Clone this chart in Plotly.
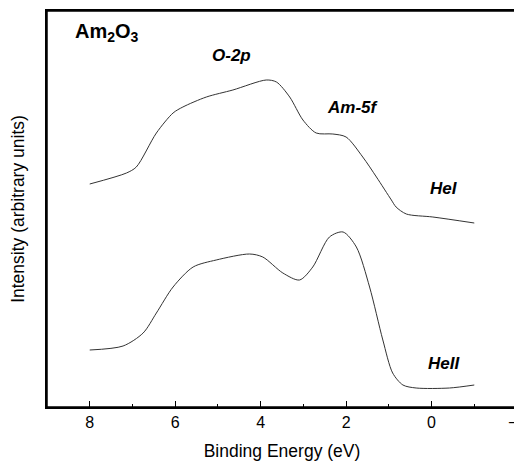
import plotly.graph_objects as go

# Binding energy (eV) and intensity (arbitrary units)
hei_energy = [8.0, 7.14, 6.91, 6.44, 6.05, 5.82, 5.27, 4.65, 3.87, 3.63, 3.32, 3.01,
              2.70, 2.31, 2.0, 1.61, 1.29, 0.94, 0.83, 0.59, -0.03, -1.0]
hei_intensity = [223, 234, 240, 274, 294, 300, 310, 317, 327, 325, 310, 287,
                 274, 273, 270, 250, 230, 207, 200, 193, 190, 184]

heii_energy = [8.0, 7.22, 6.75, 6.44, 6.05, 5.58, 5.04, 4.26, 3.95, 3.48, 3.09, 2.78,
               2.39, 2.07, 1.76, 1.45, 1.14, 0.91, 0.67, 0.36, -0.42, -1.0]
heii_intensity = [57, 61, 74, 94, 120, 140, 147, 153, 150, 134, 127, 140,
                  170, 175, 160, 120, 67, 34, 22, 19, 19, 22]

major_ticks = [8, 6, 4, 2, 0, -2]

FONT = "Liberation Sans, Arial, sans-serif"
LINE = "#333333"

fig = go.Figure()
fig.add_trace(go.Scatter(x=hei_energy, y=hei_intensity, mode="lines",
                         line=dict(color=LINE, width=1, shape="spline", smoothing=0.8),
                         showlegend=False))
fig.add_trace(go.Scatter(x=heii_energy, y=heii_intensity, mode="lines",
                         line=dict(color=LINE, width=1, shape="spline", smoothing=0.8),
                         showlegend=False))

ann_font = dict(family=FONT, size=17, color="black")
fig.add_annotation(x=0.055, y=0.945, xref="paper", yref="paper", xanchor="left", yanchor="middle",
                   text="<b>Am<sub>2</sub>O<sub>3</sub></b>", showarrow=False,
                   font=dict(family=FONT, size=20, color="black"))
fig.add_annotation(x=4.68, y=352, text="<b><i>O-2p</i></b>", showarrow=False, font=ann_font)
fig.add_annotation(x=1.85, y=300, text="<b><i>Am-5f</i></b>", showarrow=False, font=ann_font)
fig.add_annotation(x=-0.30, y=219, text="<b><i>HeI</i></b>", showarrow=False, font=ann_font)
fig.add_annotation(x=-0.30, y=44, text="<b><i>HeII</i></b>", showarrow=False, font=ann_font)

# full frame around the plotting area
fig.add_shape(type="rect", xref="paper", yref="paper", x0=0, x1=1, y0=0, y1=1,
              line=dict(color="black", width=1.5), layer="above")

fig.update_xaxes(range=[9, -2], tickvals=major_ticks, ticks="inside", ticklen=6,
                 tickwidth=1, tickcolor="black", showline=True, linecolor="black",
                 linewidth=1.5, mirror=True, showgrid=False, zeroline=False,
                 automargin=False, ticklabeloverflow="allow",
                 tickfont=dict(family=FONT, size=16, color="black"),
                 minor=dict(dtick=1, tick0=1, ticks="inside", ticklen=3, tickcolor="black",
                            showgrid=False),
                 title=dict(text="Binding Energy (eV)", standoff=15,
                            font=dict(family=FONT, size=17.5, color="black")))
fig.update_yaxes(range=[0, 396], showticklabels=False, ticks="", showline=True,
                 linecolor="black", linewidth=1.5, mirror=True, showgrid=False,
                 zeroline=False, automargin=False,
                 title=dict(text="Intensity (arbitrary units)", standoff=16,
                            font=dict(family=FONT, size=17.5, color="black")))

# The page adds an 8px body margin, so the figure is 8px smaller than the window
fig.update_layout(width=514, height=456, margin=dict(l=39, r=4.5, t=3, b=57),
                  paper_bgcolor="white", plot_bgcolor="white",
                  font=dict(family=FONT, color="black"))
fig.write_html("out.html")
